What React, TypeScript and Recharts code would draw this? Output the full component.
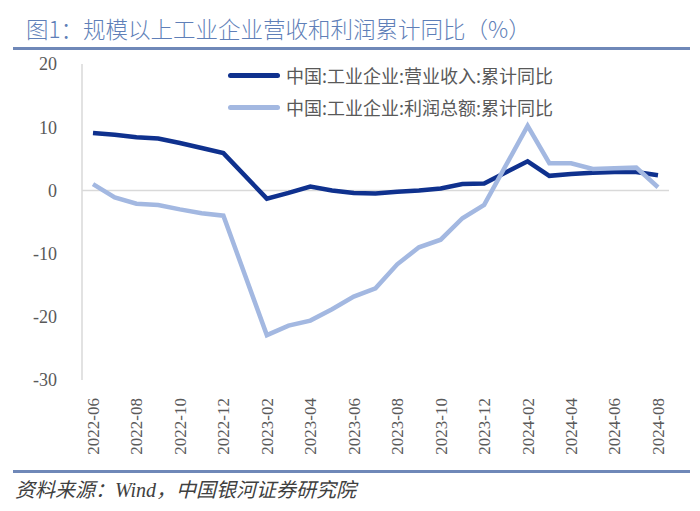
import { LineChart, Line, XAxis, YAxis, ReferenceLine } from "recharts";

// monthly, Jan has no release (Jan-Feb combined)
const months = [
  "2022-06", "2022-07", "2022-08", "2022-09", "2022-10", "2022-11", "2022-12",
  "2023-01", "2023-02", "2023-03", "2023-04", "2023-05", "2023-06", "2023-07",
  "2023-08", "2023-09", "2023-10", "2023-11", "2023-12",
  "2024-01", "2024-02", "2024-03", "2024-04", "2024-05", "2024-06", "2024-07", "2024-08",
];

const revenueYoY = [
  9.1, 8.8, 8.4, 8.2, 7.5, 6.7, 5.9,
  null, -1.3, -0.4, 0.6, 0.0, -0.4, -0.5,
  -0.2, 0.0, 0.3, 1.0, 1.1,
  null, 4.6, 2.3, 2.6, 2.8, 2.9, 2.9, 2.4,
];

const profitYoY = [
  1.0, -1.1, -2.1, -2.3, -3.0, -3.6, -4.0,
  null, -22.9, -21.4, -20.6, -18.8, -16.8, -15.5,
  -11.7, -9.0, -7.8, -4.4, -2.3,
  null, 10.2, 4.3, 4.3, 3.4, 3.5, 3.6, 0.5,
];

const yTicks = [-30, -20, -10, 0, 10, 20];

const SERIES = [
  { key: "revenue", name: "中国:工业企业:营业收入:累计同比", color: "#0f318e" },
  { key: "profit", name: "中国:工业企业:利润总额:累计同比", color: "#a3b8e1" },
];

const data = months.map((m, i) => ({
  month: m,
  revenue: revenueYoY[i],
  profit: profitYoY[i],
}));

const TICK_FONT = "'Liberation Serif', 'Noto Sans CJK SC', serif";
const CJK_FONT = "'Noto Sans CJK SC', sans-serif";

function MonthTick({ x, y, payload }: any) {
  return (
    <text
      x={x}
      y={y}
      transform={`rotate(-90 ${x} ${y})`}
      textAnchor="end"
      dy="0.35em"
      fill="#595959"
      fontSize={17}
      fontFamily={TICK_FONT}
    >
      {payload.value}
    </text>
  );
}

export default function App() {
  return (
    <div
      style={{
        position: "absolute",
        left: 0,
        top: 0,
        width: 700,
        height: 511,
        background: "#fff",
        overflow: "hidden",
      }}
    >
      {/* title + rule */}
      <div
        style={{
          position: "absolute",
          left: 26,
          top: 13,
          lineHeight: "30px",
          fontSize: 22.5,
          fontWeight: 300,
          color: "#5f7fb8",
          fontFamily: CJK_FONT,
          whiteSpace: "nowrap",
        }}
      >
        图1：规模以上工业企业营收和利润累计同比（%）
      </div>
      <div style={{ position: "absolute", left: 13, top: 47, width: 677, height: 3, background: "#6f88b8" }} />

      <div style={{ position: "absolute", left: 0, top: 0 }}>
        <LineChart width={700} height={465} data={data} margin={{ top: 64, right: 31, bottom: 0, left: 0 }}>
          <XAxis
            dataKey="month"
            interval={1}
            axisLine={false}
            tickLine={false}
            tickSize={0}
            tickMargin={18}
            height={85}
            padding={{ left: 11, right: 11 }}
            tick={<MonthTick />}
          />
          <YAxis
            domain={[-30, 20]}
            ticks={yTicks}
            width={82}
            axisLine={{ stroke: "#d9d9d9", strokeWidth: 1.5 }}
            tickLine={false}
            tickSize={0}
            tickMargin={25}
            tick={{ fill: "#595959", fontSize: 18, fontFamily: TICK_FONT }}
          />
          <ReferenceLine y={0} stroke="#d9d9d9" strokeWidth={1.5} />
          {SERIES.map((s) => (
            <Line
              key={s.key}
              dataKey={s.key}
              name={s.name}
              stroke={s.color}
              strokeWidth={4.5}
              dot={false}
              activeDot={false}
              connectNulls
              type="linear"
              isAnimationActive={false}
            />
          ))}
        </LineChart>
      </div>

      {/* legend */}
      {SERIES.map((s, i) => (
        <div
          key={s.key}
          style={{
            position: "absolute",
            left: 228,
            top: 63 + i * 32,
            height: 24,
            display: "flex",
            alignItems: "center",
            whiteSpace: "nowrap",
          }}
        >
          <span style={{ width: 52, height: 5, borderRadius: 3, background: s.color, marginRight: 6 }} />
          <span style={{ fontSize: 18, color: "#595959", fontFamily: CJK_FONT, lineHeight: "24px" }}>{s.name}</span>
        </div>
      ))}

      {/* source */}
      <div style={{ position: "absolute", left: 13, top: 470, width: 677, height: 3, background: "#6f88b8" }} />
      <div
        style={{
          position: "absolute",
          left: 15,
          top: 478,
          lineHeight: "24px",
          fontSize: 20,
          fontStyle: "italic",
          color: "#404040",
          fontFamily: "'Liberation Serif', 'Noto Sans CJK SC', serif",
          whiteSpace: "nowrap",
        }}
      >
        资料来源：Wind，中国银河证券研究院
      </div>
    </div>
  );
}
